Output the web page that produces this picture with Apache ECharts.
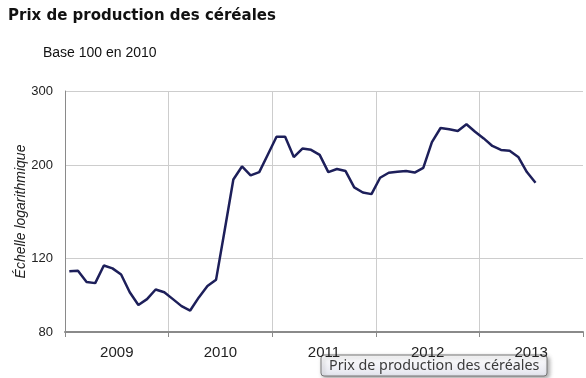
<!DOCTYPE html>
<html>
<head>
<meta charset="utf-8">
<script src="https://cdn.jsdelivr.net/npm/echarts@6/dist/echarts.min.js"></script>
<style>html,body{margin:0;padding:0;background:#fff;}#c{width:586px;height:378px;}</style>
</head>
<body>
<div id="c"></div>
<script>
const years = ['2009', '2010', '2011', '2012', '2013'];
const monthNames = ['01','02','03','04','05','06','07','08','09','10','11','12'];
const yTicks = [80, 120, 200, 300];
// Monthly index, base 100 in 2010, Jan 2009 - Jul 2013
const prix = [
  111.7, 112.0, 105.3, 104.6, 115.2, 113.4, 109.7, 99.5, 92.8, 95.8, 101.0, 99.5,
  95.8, 92.2, 90.0, 96.7, 102.9, 106.6, 140.0, 184.6, 198.3, 188.8, 192.3, 211.8,
  233.4, 233.4, 208.8, 218.8, 217.3, 211.4, 192.3, 195.6, 193.4, 176.8, 171.9, 170.4,
  186.4, 191.6, 192.7, 193.4, 191.8, 196.7, 226.6, 244.9, 243.1, 240.8, 250.0, 240.0,
  231.3, 221.9, 217.2, 216.2, 209.0, 192.3, 181.3
];
const months = [];
years.forEach(y => monthNames.forEach(m => months.push(y + '-' + m)));

const grid = '#cdcdcd';
const chart = echarts.init(document.getElementById('c'), null, {renderer: 'canvas'});
chart.setOption({
  animation: false,
  backgroundColor: '#ffffff',
  title: [
    {text: 'Prix de production des céréales', left: 3, top: 4,
     textStyle: {fontFamily: 'DejaVu Sans', fontWeight: 'bold', fontSize: 15, color: '#111'}},
    {text: 'Base 100 en 2010', left: 38, top: 41,
     textStyle: {fontFamily: 'Liberation Sans', fontWeight: 'normal', fontSize: 14, color: '#111'}}
  ],
  grid: {left: 65, right: 3, top: 91, bottom: 46, containLabel: false},
  xAxis: [
    {type: 'category', data: months, boundaryGap: true, show: false},
    {type: 'category', data: years, boundaryGap: true, position: 'bottom',
     axisLine: {show: true, lineStyle: {color: '#8a8a8a', width: 2}},
     axisTick: {show: true, length: 5, interval: 0, lineStyle: {color: '#8a8a8a'}},
     axisLabel: {interval: 0, margin: 13, fontFamily: 'Liberation Sans', fontSize: 15, color: '#222'},
     splitLine: {show: true, interval: 0, showMaxLine: false, lineStyle: {color: grid, width: 1}}}
  ],
  yAxis: {
    type: 'log', logBase: 10, min: 80, max: 300,
    name: 'Échelle logarithmique', nameLocation: 'middle', nameGap: 37, nameRotate: 90,
    nameMoveOverlap: false,
    nameTextStyle: {fontFamily: 'Liberation Sans', fontStyle: 'italic', fontSize: 14, color: '#222'},
    axisLine: {show: true, lineStyle: {color: '#8a8a8a', width: 1}},
    axisTick: {show: false, customValues: yTicks},
    axisLabel: {customValues: yTicks, margin: 12, fontFamily: 'Liberation Sans', fontSize: 13, color: '#222'},
    splitLine: {show: true, lineStyle: {color: grid, width: 1}}
  },
  series: [{
    type: 'line', xAxisIndex: 0, data: prix, showSymbol: false, symbol: 'none',
    lineStyle: {color: '#1d1f5a', width: 2.5}, z: 5
  }],
  graphic: [{
    type: 'group', z: 100,
    children: [
      {type: 'rect', shape: {x: 321, y: 355, width: 226, height: 21, r: 3},
       style: {fill: new echarts.graphic.LinearGradient(0, 0, 0, 1, [{offset: 0, color: '#ffffff'}, {offset: 1, color: '#e4e5ee'}]),
               stroke: '#767676', lineWidth: 1, shadowBlur: 4, shadowColor: 'rgba(0,0,0,0.35)', shadowOffsetX: 2, shadowOffsetY: 2}},
      {type: 'text', x: 329, y: 366,
       style: {text: 'Prix de production des céréales', font: '14.3px "Noto Sans"', fill: '#3a3a3a', verticalAlign: 'middle'}}
    ]
  }]
});
</script>
</body>
</html>
